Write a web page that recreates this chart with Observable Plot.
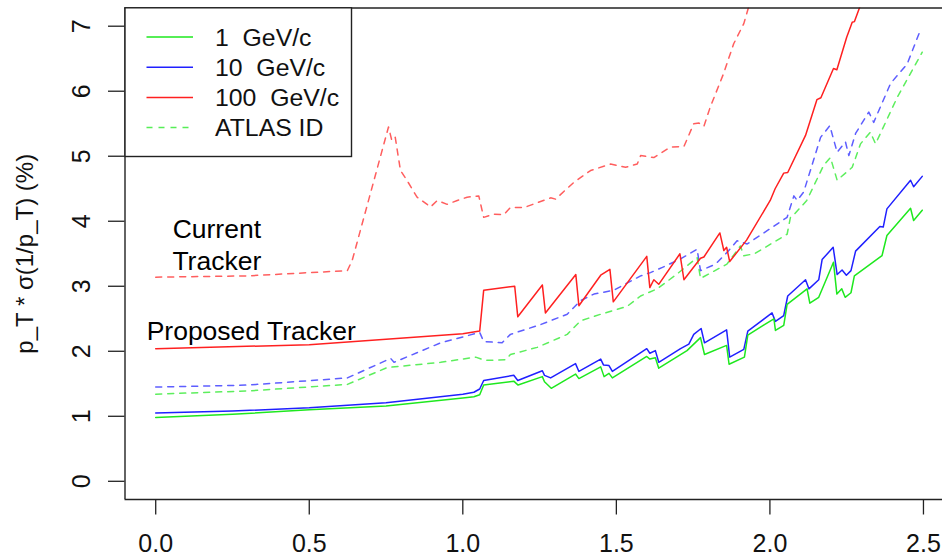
<!DOCTYPE html>
<html>
<head>
<meta charset="utf-8">
<script src="https://cdn.jsdelivr.net/npm/d3@7"></script>
<script src="https://cdn.jsdelivr.net/npm/@observablehq/plot@0.6"></script>
<style>
  html, body { margin: 0; padding: 0; background: #fff; }
  #wrap { position: relative; width: 942px; height: 559px; font-family: "Liberation Sans", Arial, Helvetica, sans-serif; }
  #legend { position: absolute; left: 0; top: 0; pointer-events: none; }
</style>
</head>
<body>
<div id="wrap"></div>
<script>
// ---- data (eta, pT * sigma(1/pT) in %) ----
const xTicks = [0, 0.5, 1.0, 1.5, 2.0, 2.5];
const yTicks = [0, 1, 2, 3, 4, 5, 6, 7];
const xDomain = [-0.1, 2.562];
const yDomain = [-0.28, 7.28];

// Proposed tracker, 1 GeV/c (green solid)
const g1Eta = [0,0.25,0.5,0.75,1.0,1.036,1.055,1.068,1.166,1.18,1.259,1.266,1.288,1.367,1.378,1.449,1.46,1.476,1.487,1.599,1.609,1.627,1.638,1.73,1.774,1.787,1.859,1.867,1.917,1.928,2.013,2.018,2.045,2.056,2.121,2.13,2.159,2.207,2.218,2.234,2.245,2.264,2.275,2.365,2.381,2.458,2.468,2.496];
const g1Val = [0.98,1.03,1.10,1.16,1.28,1.30,1.33,1.48,1.54,1.48,1.61,1.53,1.43,1.65,1.58,1.76,1.61,1.66,1.59,1.92,1.88,1.90,1.74,2.01,2.21,1.95,2.09,1.80,1.91,2.25,2.50,2.32,2.40,2.72,2.96,2.74,2.83,3.37,2.88,2.96,2.83,2.90,3.16,3.47,3.78,4.20,4.01,4.17];

// Proposed tracker, 10 GeV/c (blue solid)
const b1Eta = [0,0.25,0.5,0.75,1.0,1.036,1.055,1.068,1.166,1.179,1.259,1.266,1.286,1.367,1.378,1.449,1.458,1.476,1.487,1.599,1.609,1.627,1.638,1.709,1.736,1.752,1.776,1.787,1.859,1.869,1.915,1.928,2.007,2.018,2.045,2.058,2.116,2.127,2.159,2.17,2.206,2.219,2.235,2.249,2.264,2.279,2.358,2.369,2.381,2.458,2.468,2.496];
const b1Val = [1.05,1.08,1.13,1.21,1.34,1.37,1.42,1.55,1.63,1.55,1.70,1.63,1.59,1.81,1.69,1.88,1.79,1.78,1.69,2.04,1.97,2.01,1.83,2.04,2.11,2.26,2.35,2.13,2.33,1.91,2.03,2.31,2.59,2.46,2.55,2.85,3.10,2.96,3.10,3.41,3.60,3.18,3.25,3.17,3.24,3.54,3.92,3.91,4.19,4.63,4.53,4.69];

// Proposed tracker, 100 GeV/c (red solid)
const r1Eta = [0,0.5,1.0,1.055,1.068,1.169,1.179,1.259,1.269,1.368,1.378,1.449,1.479,1.49,1.599,1.609,1.622,1.638,1.707,1.72,1.774,1.785,1.837,1.85,1.859,1.869,1.924,2.001,2.017,2.045,2.058,2.116,2.153,2.166,2.207,2.218,2.25,2.268,2.275,2.293,2.31];
const r1Val = [2.04,2.10,2.27,2.31,2.94,3.00,2.53,3.02,2.59,3.18,2.70,3.17,3.26,2.76,3.46,2.98,3.10,3.03,3.50,3.10,3.43,3.45,3.82,3.55,3.60,3.38,3.71,4.32,4.50,4.74,4.75,5.32,5.87,5.90,6.35,6.33,6.83,7.06,7.07,7.30,7.60];

// ATLAS ID, 1 GeV/c (green dashed)
const g2Eta = [0,0.3,0.624,0.754,0.928,1.042,1.072,1.14,1.155,1.242,1.34,1.384,1.449,1.535,1.579,1.633,1.698,1.763,1.774,1.86,1.904,1.915,1.95,2.056,2.067,2.08,2.12,2.175,2.197,2.219,2.268,2.295,2.327,2.344,2.415,2.496];
const g2Val = [1.34,1.39,1.49,1.75,1.83,1.91,1.86,1.87,1.95,2.06,2.26,2.47,2.57,2.69,2.85,2.96,3.19,3.44,3.12,3.34,3.62,3.47,3.50,3.80,4.06,4.11,4.32,4.86,4.98,4.63,4.83,5.19,5.37,5.19,5.91,6.60];

// ATLAS ID, 10 GeV/c (blue dashed)
const b2Eta = [0,0.3,0.624,0.765,0.776,0.928,1.055,1.068,1.128,1.155,1.253,1.34,1.384,1.427,1.492,1.579,1.611,1.65,1.709,1.763,1.774,1.823,1.866,1.893,1.926,2.056,2.078,2.089,2.11,2.165,2.195,2.219,2.246,2.257,2.279,2.322,2.338,2.393,2.447,2.49];
const b2Val = [1.45,1.48,1.59,1.89,1.83,2.13,2.29,2.15,2.13,2.26,2.41,2.57,2.78,2.88,2.94,3.16,3.21,3.29,3.42,3.57,3.24,3.34,3.55,3.70,3.65,4.06,4.39,4.32,4.45,5.29,5.47,5.06,5.22,5.01,5.35,5.68,5.52,6.12,6.42,6.94];

// ATLAS ID, 100 GeV/c (red dashed)
const r2Eta = [0,0.3,0.624,0.64,0.758,0.769,0.78,0.797,0.818,0.851,0.895,0.917,0.949,0.982,1.014,1.052,1.068,1.101,1.133,1.155,1.199,1.286,1.302,1.362,1.416,1.481,1.53,1.568,1.579,1.622,1.676,1.72,1.752,1.769,1.785,1.806,1.849,1.882,1.915,1.931,1.95];
const r2Val = [3.14,3.16,3.24,3.40,5.45,5.24,5.29,4.78,4.63,4.37,4.22,4.32,4.26,4.32,4.37,4.39,4.06,4.11,4.10,4.21,4.21,4.36,4.34,4.60,4.78,4.88,4.83,4.88,5.01,4.98,5.14,5.15,5.50,5.51,5.46,5.76,6.27,6.73,7.04,7.30,7.60];

const legendLabels = ["1  GeV/c", "10  GeV/c", "100  GeV/c", "ATLAS ID"];
const notes = [
  {x: 0.199, y: 3.652, text: "Current\nTracker"},
  {x: 0.311, y: 2.334, text: "Proposed Tracker"}
];
const yLabel = "p_T * \u03c3(1/p_T) (%)";

// ---- build ----
const zip = (e, v) => e.map((d, i) => ({eta: d, val: v[i]}));
const GREEN = "#1ee81e", BLUE = "#2020ff", RED = "#ff2020";
const solid = (data, color) => Plot.line(data, {x: "eta", y: "val", stroke: color, strokeWidth: 1.5, clip: true});
const dashed = (data, color) => Plot.line(data, {x: "eta", y: "val", stroke: color, strokeWidth: 1.5, strokeOpacity: 0.72, strokeDasharray: "6,6", clip: true});

const chart = Plot.plot({
  width: 942,
  height: 559,
  marginLeft: 124.5,
  marginRight: 0,
  marginTop: 7.5,
  marginBottom: 60,
  style: {fontFamily: "'Liberation Sans', Arial, Helvetica, sans-serif", fontSize: "24px", color: "#111", background: "#fff"},
  x: {domain: xDomain, ticks: xTicks},
  y: {domain: yDomain, ticks: yTicks},
  marks: [
    dashed(zip(r2Eta, r2Val), RED),
    dashed(zip(b2Eta, b2Val), BLUE),
    dashed(zip(g2Eta, g2Val), GREEN),
    solid(zip(r1Eta, r1Val), RED),
    solid(zip(b1Eta, b1Val), BLUE),
    solid(zip(g1Eta, g1Val), GREEN),
    Plot.axisX({ticks: xTicks, tickFormat: d3.format(".1f"), tickSize: 15.5, tickPadding: 19.5, label: null, fontSize: 25, stroke: "#222", strokeWidth: 1.3}),
    Plot.axisY({ticks: yTicks, tickFormat: () => "", tickSize: 16.5, label: null, stroke: "#222", strokeWidth: 1.3}),
    Plot.text(yTicks, {y: d => d, text: d => String(d), frameAnchor: "left", dx: -43.5, rotate: -90, textAnchor: "middle", lineAnchor: "middle", fontSize: 25, fill: "#111"}),
    Plot.text([yLabel], {frameAnchor: "left", dx: -99.5, rotate: -90, textAnchor: "middle", lineAnchor: "middle", fontSize: 24, fill: "#111"}),
    Plot.ruleX([xDomain[0]], {stroke: "#222", strokeWidth: 1.4}),
    Plot.ruleY([yDomain[0], yDomain[1]], {stroke: "#222", strokeWidth: 1.4}),
    Plot.text(notes, {x: "x", y: "y", text: "text", textAnchor: "middle", lineAnchor: "middle", lineHeight: 1.192, fontSize: 26.5, fill: "#000"})
  ]
});

const wrap = document.getElementById("wrap");
wrap.appendChild(chart);

// ---- legend (overlay inside the plot, top-left) ----
const ns = "http://www.w3.org/2000/svg";
const lg = document.createElementNS(ns, "svg");
lg.setAttribute("id", "legend");
lg.setAttribute("width", 942);
lg.setAttribute("height", 559);
const box = document.createElementNS(ns, "rect");
box.setAttribute("x", 125); box.setAttribute("y", 7.8);
box.setAttribute("width", 226.5); box.setAttribute("height", 148.7);
box.setAttribute("fill", "#fff"); box.setAttribute("stroke", "#222"); box.setAttribute("stroke-width", 1.4);
lg.appendChild(box);
const legColors = [GREEN, BLUE, RED, GREEN];
const legDash = [null, null, null, "6,6"];
legendLabels.forEach((lab, i) => {
  const yy = 37 + i * 30.2;
  const ln = document.createElementNS(ns, "line");
  ln.setAttribute("x1", 146.5); ln.setAttribute("x2", 193);
  ln.setAttribute("y1", yy); ln.setAttribute("y2", yy);
  ln.setAttribute("stroke", legColors[i]); ln.setAttribute("stroke-width", 1.5);
  if (legDash[i]) { ln.setAttribute("stroke-dasharray", legDash[i]); ln.setAttribute("stroke-opacity", 0.75); }
  lg.appendChild(ln);
  const t = document.createElementNS(ns, "text");
  t.setAttribute("x", 215); t.setAttribute("y", yy + 8.8);
  t.setAttribute("font-size", 24.8);
  t.setAttribute("fill", "#111");
  t.setAttribute("font-family", "'Liberation Sans', Arial, Helvetica, sans-serif");
  t.setAttribute("xml:space", "preserve");
  t.style.whiteSpace = "pre";
  t.textContent = lab;
  lg.appendChild(t);
});
wrap.appendChild(lg);
</script>
</body>
</html>
